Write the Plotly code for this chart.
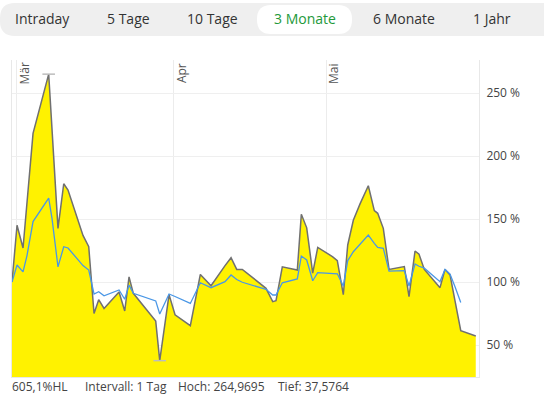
import numpy as np
import pandas as pd
import plotly.graph_objects as go

# ---- data ----
start_date = "2024-03-01"
day_offsets = [-0.79, 0.20, 1.38, 2.16, 3.35, 6.43, 7.08, 8.26, 9.39, 10.23,
               13.18, 14.31, 15.35, 16.27, 17.32, 20.27, 21.39, 22.24, 23.08, 27.49,
               28.28, 30.11, 31.29, 34.30, 36.27, 38.37, 41.13, 42.31, 43.43, 44.53,
               49.19, 50.51, 51.16, 52.40, 55.35, 56.14, 57.20, 58.38, 59.37, 62.32,
               63.22, 64.40, 65.27, 66.37, 67.69, 69.32, 70.50, 71.17, 72.27, 73.40,
               76.41, 77.33, 78.51, 79.30, 80.34, 83.43, 84.41, 85.40, 86.38, 87.51,
               90.46]
vola = [100, 145, 127, 163, 218, 264.9695, 221, 142.6, 178, 173,
        137, 128, 75, 86, 79, 92, 77, 104, 91, 69,
        37.5764, 90, 74, 65.3, 106, 97, 113, 119.3, 110, 110,
        95, 84.4, 85.2, 112, 109.5, 153.7, 143, 107, 127.5, 120,
        117, 90, 129.4, 149, 162, 176.4, 156.6, 154.5, 142.6, 110,
        112.2, 88.3, 124.6, 122, 110, 95.5, 110, 105.6, 85, 61.4,
        57.1]
average = [100, 113.5, 108, 121, 148, 166.5, 150.5, 112, 128, 127,
           113, 109.5, 90.5, 92.3, 89, 93.7, 86.3, 97.5, 91, 85,
           74.6, 90.5, 88.5, 83, 99.4, 95.5, 100.3, 105.6, 102, 99.8,
           94.2, 89.7, 89.7, 99.4, 102.4, 120.6, 117.5, 101, 107.4, 107,
           106.5, 96.8, 117, 124, 130, 137.3, 130.7, 127.5, 126.7, 108.7,
           109, 96.8, 114.3, 112.5, 111, 100.3, 110, 106.3, 96.3, 83.7,
           None]
month_starts = ["2024-03-01", "2024-04-01", "2024-05-01"]
month_labels = ["Mär", "Apr", "Mai"]
y_ticks = [50, 100, 150, 200, 250]
tabs = ["Intraday", "5 Tage", "10 Tage", "3 Monate", "6 Monate", "1 Jahr"]
active_tab = "3 Monate"
interval_text = "Intervall: 1 Tag"

# ---- derived ----
base = pd.Timestamp(start_date)
dates = [base + pd.Timedelta(days=d) for d in day_offsets]
v = np.array(vola, dtype=float)
i_hi, i_lo = int(np.argmax(v)), int(np.argmin(v))
hi, lo = v[i_hi], v[i_lo]
hl_pct = np.floor((hi - lo) / lo * 1000) / 10

W, H = 544, 394
L, R, T, B = 12, 65, 60, 17
pw, ph = W - L - R, H - T - B


def px_x(x):
    return (x - L) / pw


def px_y(y):
    return (H - B - y) / ph


def rounded_rect(x0, y0, x1, y1, r):
    # pixel coords -> paper path with rounded corners
    X0, X1 = px_x(x0), px_x(x1)
    Y0, Y1 = px_y(y1), px_y(y0)  # bottom, top
    rx, ry = r / pw, r / ph
    return (f"M {X0+rx},{Y1} L {X1-rx},{Y1} Q {X1},{Y1} {X1},{Y1-ry} "
            f"L {X1},{Y0+ry} Q {X1},{Y0} {X1-rx},{Y0} L {X0+rx},{Y0} "
            f"Q {X0},{Y0} {X0},{Y0+ry} L {X0},{Y1-ry} Q {X0},{Y1} {X0+rx},{Y1} Z")


fig = go.Figure()
fig.add_trace(go.Scatter(
    x=dates, y=vola, mode="lines", fill="tozeroy",
    fillcolor="#fff200", line=dict(color="#707070", width=1.5),
    hoverinfo="skip", showlegend=False))
fig.add_trace(go.Scatter(
    x=dates, y=average, mode="lines",
    line=dict(color="#4a97e6", width=1.3),
    hoverinfo="skip", showlegend=False, connectgaps=False))
fig.add_trace(go.Scatter(
    x=[dates[i_hi], dates[i_lo]], y=[hi, lo], mode="markers",
    marker=dict(symbol="line-ew", size=9, line=dict(color="#bdbdbd", width=1.5)),
    hoverinfo="skip", showlegend=False))

x_lo = base + pd.Timedelta(days=-0.79)
x_hi = base + pd.Timedelta(days=91.1)

fig.update_layout(
    width=W, height=H, margin=dict(l=L, r=R, t=T, b=B),
    paper_bgcolor="white", plot_bgcolor="white",
    font=dict(family="Open Sans", size=12, color="#444"),
    xaxis=dict(range=[x_lo, x_hi], type="date", showgrid=True, gridcolor="#ececec",
               gridwidth=1, tickmode="array", tickvals=month_starts,
               showticklabels=False, ticks="", zeroline=False,
               showline=True, linecolor="#e8e8e8", mirror=False),
    yaxis=dict(range=[24.6, 276.2], side="right", tickvals=y_ticks,
               ticktext=[f"{t} %" for t in y_ticks], showgrid=True,
               gridcolor="#efefef", zeroline=False, ticks="",
               showline=True, linecolor="#e8e8e8", mirror=True,
               tickfont=dict(family="Open Sans", size=12, color="#444"),
               ticklabelstandoff=4),
)

# month labels
for d, lab in zip(month_starts, month_labels):
    fig.add_annotation(x=d, y=1, xref="x", yref="paper", text=lab, showarrow=False,
                       textangle=-90, xanchor="left", yanchor="top", xshift=-3, yshift=-1,
                       font=dict(family="Open Sans", size=12, color="#555"))

# tab bar
fig.add_shape(type="path", xref="paper", yref="paper",
              path=rounded_rect(0, 3, 560, 36, 15),
              fillcolor="#efefef", line=dict(width=0), layer="above")
tab_centers = [42, 128, 212, 305, 404, 492]
for name, cx in zip(tabs, tab_centers):
    if name == active_tab:
        fig.add_shape(type="path", xref="paper", yref="paper",
                      path=rounded_rect(cx - 48, 5, cx + 47, 34, 14),
                      fillcolor="white", line=dict(width=0), layer="above")
    fig.add_annotation(x=px_x(cx), y=px_y(19), xref="paper", yref="paper", text=name,
                       showarrow=False, xanchor="center", yanchor="middle",
                       font=dict(family="Open Sans", size=14,
                                 color="#23993a" if name == active_tab else "#333"))

# bottom info line
def de(x, n):
    return f"{x:.{n}f}".replace(".", ",")

info = [(10, f"{de(hl_pct, 1)}%HL"), (83, interval_text),
        (176, f"Hoch: {de(hi, 4)}"), (276, f"Tief: {de(lo, 4)}")]
for px, txt in info:
    fig.add_annotation(x=px_x(px), y=px_y(386), xref="paper", yref="paper", text=txt,
                       showarrow=False, xanchor="left", yanchor="middle",
                       font=dict(family="Open Sans", size=12, color="#444"))

fig.write_html("out.html")
